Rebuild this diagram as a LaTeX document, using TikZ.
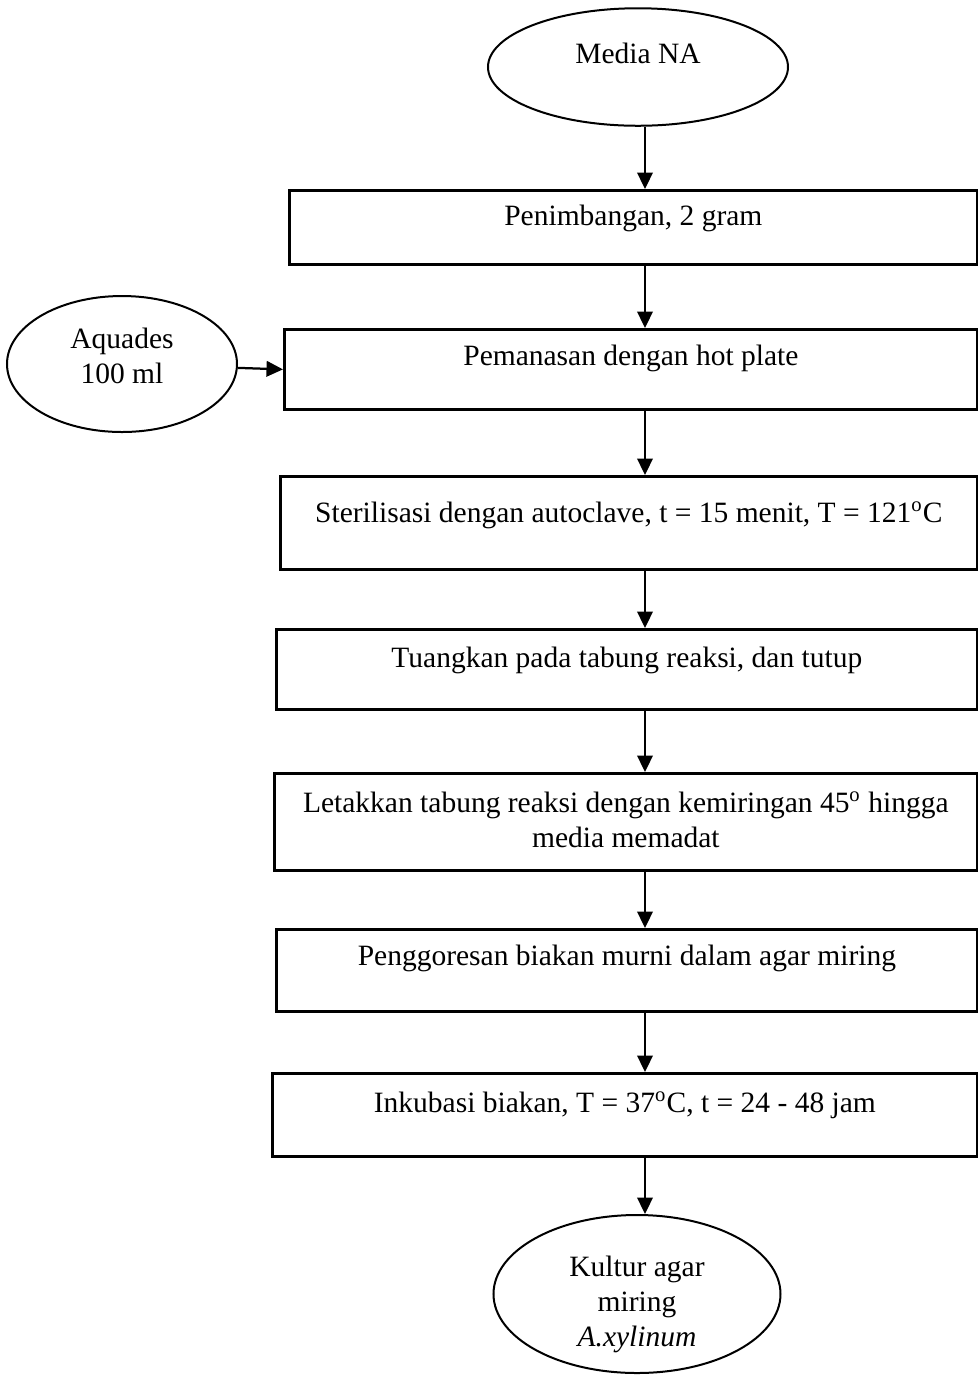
\documentclass[tikz,border=0pt]{standalone}
\usepackage{fontspec}
\setmainfont{Liberation Serif}
\usetikzlibrary{arrows.meta,shapes.geometric}
\begin{document}
\begin{tikzpicture}[x=0.4pt,y=-0.4pt,
  stepbox/.style={draw,line width=1.1pt,rectangle,anchor=north west,inner sep=0pt},
  oval/.style={draw,line width=0.8pt,ellipse,inner sep=0pt},
  txt/.style={font=\fontsize{11.8}{14}\selectfont,align=center,inner sep=0pt},
  arr/.style={line width=0.9pt,-{Triangle[length=6.6pt,width=6.2pt]}}]
\useasboundingbox (0,0) rectangle (978,1376);
\coordinate (ax) at (645,0);

% start and end ovals
\node[oval,minimum width=120pt,minimum height=47pt] (media) at (638,67) {};
\node[txt] at (638,53) {Media NA};
\node[oval,minimum width=92pt,minimum height=54.4pt] (aq) at (122,364) {};
\node[txt] at (122,356) {Aquades\\100 ml};
\node[oval,minimum width=114.8pt,minimum height=63.2pt] (kultur) at (637,1294) {};
\node[txt] at (637,1304) {Kultur agar\\miring\\\textit{A.xylinum}};

% process steps
\node[stepbox,minimum width={(976-288)*0.4pt},minimum height={(263-189)*0.4pt}] (b1) at (288,189) {};
\node[txt] at (b1.north |- 0,218) {Penimbangan, 2 gram};
\node[stepbox,minimum width={(976-283)*0.4pt},minimum height={(408-328)*0.4pt}] (b2) at (283,328) {};
\node[txt] at (b2.north |- 0,358) {Pemanasan dengan hot plate};
\node[stepbox,minimum width={(976-279)*0.4pt},minimum height={(568-475)*0.4pt}] (b3) at (279,475) {};
\node[txt] at (b3.north |- 0,515) {Sterilisasi dengan autoclave, t = 15 menit, T = 121\textsuperscript{o}C};
\node[stepbox,minimum width={(976-275)*0.4pt},minimum height={(708-628)*0.4pt}] (b4) at (275,628) {};
\node[txt] at (b4.north |- 0,660) {Tuangkan pada tabung reaksi, dan tutup};
\node[stepbox,minimum width={(976-273)*0.4pt},minimum height={(869-772)*0.4pt}] (b5) at (273,772) {};
\node[txt] at (b5.north |- 0,820) {Letakkan tabung reaksi dengan kemiringan 45\textsuperscript{o} hingga\\media memadat};
\node[stepbox,minimum width={(976-275)*0.4pt},minimum height={(1010-928)*0.4pt}] (b6) at (275,928) {};
\node[txt] at (b6.north |- 0,958) {Penggoresan biakan murni dalam agar miring};
\node[stepbox,minimum width={(976-271)*0.4pt},minimum height={(1155-1072)*0.4pt}] (b7) at (271,1072) {};
\node[txt] at (b7.north |- 0,1105) {Inkubasi biakan, T = 37\textsuperscript{o}C, t = 24 - 48 jam};

% connectors
\draw[arr] (media.south -| ax) -- (b1.north -| ax);
\draw[arr] (b1.south -| ax) -- (b2.north -| ax);
\draw[arr] (aq) -- (b2.west);
\draw[arr] (b2.south -| ax) -- (b3.north -| ax);
\draw[arr] (b3.south -| ax) -- (b4.north -| ax);
\draw[arr] (b4.south -| ax) -- (b5.north -| ax);
\draw[arr] (b5.south -| ax) -- (b6.north -| ax);
\draw[arr] (b6.south -| ax) -- (b7.north -| ax);
\draw[arr] (b7.south -| ax) -- (kultur.north -| ax);
\end{tikzpicture}
\end{document}
